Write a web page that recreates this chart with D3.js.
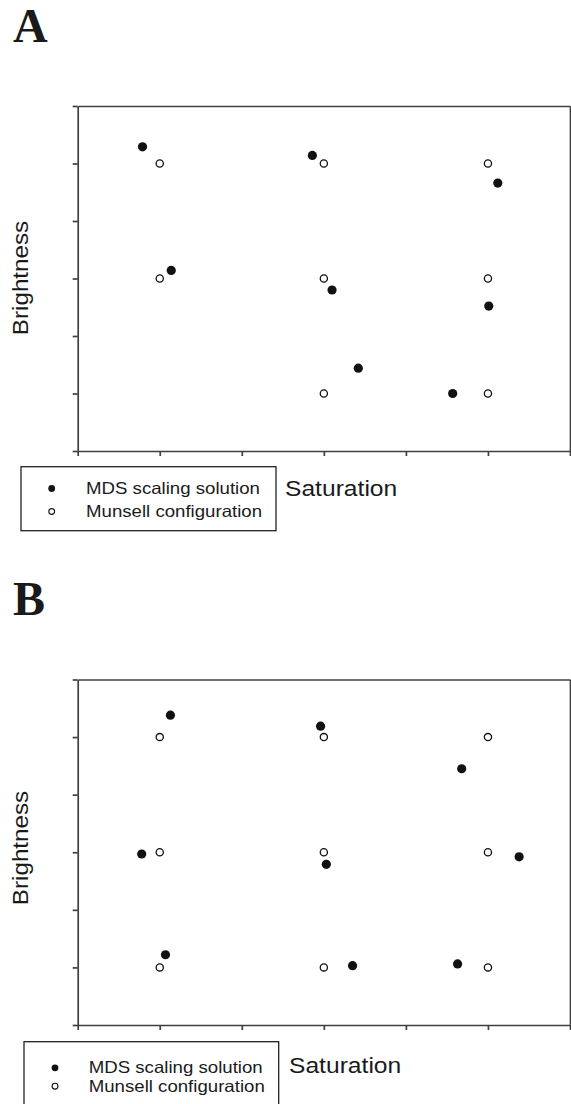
<!DOCTYPE html>
<html>
<head>
<meta charset="utf-8">
<script src="https://cdn.jsdelivr.net/npm/d3@7"></script>
<style>
  body { margin: 0; background: #fff; }
  text { font-family: "Liberation Sans", Arial, sans-serif; fill: #1a1a1a; }
  .panel-label { font-family: "Liberation Serif", "Times New Roman", serif; font-weight: bold; font-size: 48px; }
  .axis-label { font-size: 22px; }
  .legend-text { font-size: 16.5px; }
  .axis path, .axis line { stroke: #404040; stroke-width: 1.7; }
</style>
</head>
<body>
<svg width="571" height="1104"></svg>
<script>
// tick positions (no tick labels shown)
const satTicks = [0, 1, 2, 3, 4, 5, 6]
const briTicks = [0, 1, 2, 3, 4, 5, 6]

// panel A
const munsellSatA = [1, 1, 3, 3, 3, 5, 5, 5]
const munsellBriA = [5, 3, 5, 3, 1, 5, 3, 1]
const mdsSatA = [0.79, 2.86, 5.12, 1.14, 3.10, 5.01, 3.42, 4.57]
const mdsBriA = [5.29, 5.14, 4.66, 3.14, 2.80, 2.52, 1.44, 1.00]

// panel B
const munsellSatB = [1, 1, 1, 3, 3, 3, 5, 5, 5]
const munsellBriB = [5, 3, 1, 5, 3, 1, 5, 3, 1]
const mdsSatB = [1.13, 2.96, 4.68, 0.78, 3.03, 5.38, 1.07, 3.35, 4.63]
const mdsBriB = [5.38, 5.19, 4.45, 2.97, 2.79, 2.92, 1.22, 1.03, 1.06]

const legendLabels = ['MDS scaling solution', 'Munsell configuration']

const svg = d3.select('svg')

const zip = (xs, ys) => xs.map((x, i) => ({ sat: x, bri: ys[i] }))

const renderPanel = p => {
    const xScale = d3.scaleLinear().domain([0, 6]).range([77.7, 570])
    const yScale = d3.scaleLinear().domain([0, 6]).range([p.bottom, p.top])

    const g = svg.append('g')

    // panel letter
    g.append('text')
        .classed('panel-label', true)
        .attr('x', 13)
        .attr('y', p.letterY)
        .text(p.letter)

    // frame: top and right
    g.append('g').classed('axis', true)
        .attr('transform', `translate(0,${p.top})`)
        .call(d3.axisTop(xScale).tickValues([]).tickSizeOuter(0))
    g.append('g').classed('axis', true)
        .attr('transform', `translate(570,0)`)
        .call(d3.axisRight(yScale).tickValues([]).tickSizeOuter(0))

    g.append('g').classed('axis', true)
        .attr('transform', `translate(77.7,0)`)
        .call(d3.axisLeft(yScale).tickValues(briTicks).tickSize(5).tickSizeOuter(0).tickFormat(''))

    g.append('g').classed('axis', true)
        .attr('transform', `translate(0,${p.bottom})`)
        .call(d3.axisBottom(xScale).tickValues(satTicks).tickSize(5).tickSizeOuter(0).tickFormat(''))

    // Munsell (open)
    g.selectAll('circle.munsell')
        .data(zip(p.munsellSat, p.munsellBri))
        .enter()
        .append('circle')
            .classed('munsell', true)
            .attr('cx', d => xScale(d.sat))
            .attr('cy', d => yScale(d.bri))
            .attr('r', 3.6)
            .attr('fill', '#fff')
            .attr('stroke', '#111')
            .attr('stroke-width', 1.3)

    // MDS (filled)
    g.selectAll('circle.mds')
        .data(zip(p.mdsSat, p.mdsBri))
        .enter()
        .append('circle')
            .classed('mds', true)
            .attr('cx', d => xScale(d.sat))
            .attr('cy', d => yScale(d.bri))
            .attr('r', 4.6)
            .attr('fill', '#111')

    // axis titles
    g.append('text')
        .classed('axis-label', true)
        .attr('text-anchor', 'middle')
        .attr('transform', `translate(28,${p.briLabelY}) rotate(-90) scale(1.1,1)`)
        .text('Brightness')

    g.append('text')
        .classed('axis-label', true)
        .attr('transform', `translate(${p.satLabelX},${p.satLabelY}) scale(1.12,1)`)
        .text('Saturation')

    // legend
    const lg = p.legend
    g.append('rect')
        .attr('x', lg.x)
        .attr('y', lg.y)
        .attr('width', lg.w)
        .attr('height', lg.h)
        .attr('fill', 'none')
        .attr('stroke', '#222')
        .attr('stroke-width', 1.3)

    legendLabels.forEach((label, i) => {
        const ty = lg.firstBase + i * lg.step
        g.append('circle')
            .attr('cx', lg.symX)
            .attr('cy', ty - 5.5)
            .attr('r', i === 0 ? 3.4 : 2.9)
            .attr('fill', i === 0 ? '#111' : '#fff')
            .attr('stroke', '#111')
            .attr('stroke-width', i === 0 ? 0 : 1.1)
        g.append('text')
            .classed('legend-text', true)
            .attr('transform', `translate(${lg.textX},${ty}) scale(1.13,1)`)
            .text(label)
    })
}

renderPanel({
    letter: 'A', letterY: 42, top: 106, bottom: 451,
    munsellSat: munsellSatA, munsellBri: munsellBriA,
    mdsSat: mdsSatA, mdsBri: mdsBriA,
    briLabelY: 278, satLabelX: 285, satLabelY: 495.5,
    legend: { x: 21, y: 466.7, w: 255, h: 64, symX: 51.7, textX: 86, firstBase: 494, step: 23 }
})

renderPanel({
    letter: 'B', letterY: 615, top: 679.5, bottom: 1025,
    munsellSat: munsellSatB, munsellBri: munsellBriB,
    mdsSat: mdsSatB, mdsBri: mdsBriB,
    briLabelY: 848, satLabelX: 289, satLabelY: 1073,
    legend: { x: 24, y: 1041.7, w: 254.7, h: 80, symX: 55, textX: 88.7, firstBase: 1073.3, step: 18.4 }
})
</script>
</body>
</html>
